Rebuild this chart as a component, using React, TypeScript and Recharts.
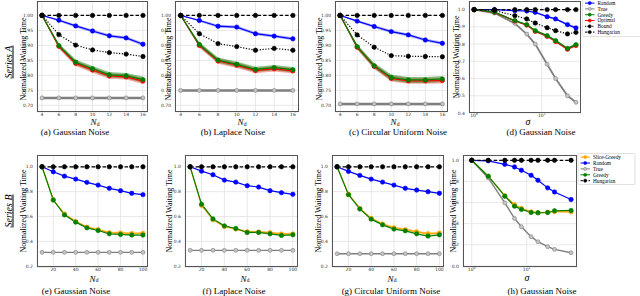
import React from 'react';
import { ComposedChart, Line, Area, XAxis, YAxis, CartesianGrid } from 'recharts';

// ---------- data ----------
const nTop = [4, 6, 8, 10, 12, 14, 16];
const nBottom = [10, 20, 30, 40, 50, 60, 70, 80, 90, 100];
const sigmaD = [1, 2, 4, 6, 8, 12, 16, 24, 32];
const sigmaH = [1, 2, 4, 6, 8, 12, 16, 24, 32, 64];

// (a) Gaussian, Series A
const aRandom = [1.0, 0.984, 0.965, 0.948, 0.932, 0.925, 0.904];
const aTrue = [0.725, 0.725, 0.725, 0.725, 0.725, 0.725, 0.725];
const aGreedy = [1.0, 0.899, 0.844, 0.822, 0.802, 0.799, 0.786];
const aOptimal = [1.0, 0.897, 0.840, 0.818, 0.798, 0.795, 0.781];
const aBound = [1.0, 0.936, 0.901, 0.885, 0.876, 0.871, 0.863];
const aHungarian = [1, 1, 1, 1, 1, 1, 1];
const aRandomStd = [0, 0.004, 0.005, 0.005, 0.005, 0.005, 0.006];
const aGreedyStd = [0, 0.008, 0.009, 0.009, 0.009, 0.009, 0.010];
const aOptimalStd = [0, 0.008, 0.009, 0.009, 0.009, 0.009, 0.010];

// (b) Laplace, Series A
const bRandom = [1.0, 0.983, 0.964, 0.961, 0.939, 0.931, 0.922];
const bTrue = [0.75, 0.75, 0.75, 0.75, 0.75, 0.75, 0.75];
const bGreedy = [1.0, 0.903, 0.851, 0.837, 0.820, 0.826, 0.819];
const bOptimal = [1.0, 0.900, 0.848, 0.834, 0.816, 0.822, 0.815];
const bBound = [1.0, 0.939, 0.906, 0.896, 0.884, 0.890, 0.884];
const bHungarian = [1, 1, 1, 1, 1, 1, 1];
const bRandomStd = [0, 0.004, 0.005, 0.005, 0.005, 0.005, 0.005];
const bGreedyStd = [0, 0.008, 0.009, 0.009, 0.009, 0.009, 0.009];
const bOptimalStd = [0, 0.008, 0.009, 0.009, 0.009, 0.009, 0.009];

// (c) Circular uniform, Series A
const cRandom = [1.0, 0.981, 0.963, 0.946, 0.935, 0.918, 0.907];
const cTrue = [0.705, 0.705, 0.705, 0.705, 0.705, 0.705, 0.705];
const cGreedy = [1.0, 0.896, 0.832, 0.793, 0.785, 0.785, 0.788];
const cOptimal = [1.0, 0.894, 0.830, 0.790, 0.782, 0.782, 0.783];
const cBound = [1.0, 0.935, 0.894, 0.866, 0.864, 0.863, 0.862];
const cHungarian = [1, 1, 1, 1, 1, 1, 1];
const cRandomStd = [0, 0.004, 0.005, 0.005, 0.005, 0.005, 0.005];
const cGreedyStd = [0, 0.008, 0.009, 0.010, 0.010, 0.010, 0.010];
const cOptimalStd = [0, 0.008, 0.009, 0.010, 0.010, 0.010, 0.010];

// (d) Gaussian vs sigma, Series A
const dRandom = [1.0, 1.0, 0.994, 0.992, 0.984, 0.959, 0.946, 0.913, 0.894];
const dTrue = [1.0, 0.98, 0.92, 0.858, 0.80, 0.683, 0.60, 0.50, 0.462];
const dGreedy = [1.0, 0.985, 0.936, 0.913, 0.878, 0.849, 0.82, 0.775, 0.797];
const dOptimal = [1.0, 0.984, 0.934, 0.910, 0.874, 0.845, 0.815, 0.770, 0.792];
const dBound = [1.0, 0.995, 0.965, 0.946, 0.922, 0.895, 0.878, 0.859, 0.868];
const dHungarian = [1, 1, 1, 1, 1, 1, 1, 1, 1];
const dRandomStd = [0, 0.002, 0.003, 0.003, 0.004, 0.005, 0.005, 0.006, 0.006];
const dGreedyStd = [0, 0.003, 0.004, 0.004, 0.005, 0.005, 0.006, 0.006, 0.006];
const dOptimalStd = [0, 0.003, 0.004, 0.004, 0.005, 0.005, 0.006, 0.006, 0.006];

// (e) Gaussian, Series B
const eSlice = [1.0, 0.735, 0.62, 0.56, 0.515, 0.495, 0.47, 0.468, 0.463, 0.465];
const eRandom = [1.0, 0.96, 0.925, 0.901, 0.875, 0.853, 0.827, 0.808, 0.787, 0.776];
const eTrue = [0.312, 0.312, 0.312, 0.312, 0.312, 0.312, 0.312, 0.312, 0.312, 0.312];
const eGreedy = [1.0, 0.733, 0.613, 0.555, 0.509, 0.488, 0.461, 0.456, 0.451, 0.451];
const eHungarian = [1, 1, 1, 1, 1, 1, 1, 1, 1, 1];
const eSliceStd = [0, 0.006, 0.008, 0.008, 0.009, 0.009, 0.01, 0.01, 0.01, 0.01];

// (f) Laplace, Series B
const fSlice = [1.0, 0.69, 0.575, 0.52, 0.50, 0.477, 0.476, 0.47, 0.46, 0.46];
const fRandom = [1.0, 0.965, 0.936, 0.893, 0.877, 0.848, 0.837, 0.808, 0.792, 0.779];
const fTrue = [0.328, 0.328, 0.328, 0.328, 0.328, 0.328, 0.328, 0.328, 0.328, 0.328];
const fGreedy = [1.0, 0.699, 0.581, 0.525, 0.504, 0.472, 0.472, 0.461, 0.448, 0.453];
const fHungarian = [1, 1, 1, 1, 1, 1, 1, 1, 1, 1];
const fSliceStd = [0, 0.006, 0.008, 0.008, 0.009, 0.009, 0.01, 0.01, 0.01, 0.01];

// (g) Circular uniform, Series B
const gSlice = [1.0, 0.78, 0.665, 0.585, 0.54, 0.51, 0.495, 0.477, 0.462, 0.467];
const gRandom = [1.0, 0.963, 0.931, 0.901, 0.877, 0.853, 0.827, 0.813, 0.80, 0.787];
const gTrue = [0.301, 0.301, 0.301, 0.301, 0.301, 0.301, 0.301, 0.301, 0.301, 0.301];
const gGreedy = [1.0, 0.776, 0.661, 0.579, 0.533, 0.499, 0.485, 0.461, 0.443, 0.453];
const gHungarian = [1, 1, 1, 1, 1, 1, 1, 1, 1, 1];
const gSliceStd = [0, 0.006, 0.008, 0.008, 0.009, 0.009, 0.01, 0.01, 0.01, 0.01];

// (h) Gaussian vs sigma, Series B
const hSlice = [1.0, 0.85, 0.665, 0.58, 0.545, 0.512, 0.505, 0.508, 0.515, 0.512];
const hRandom = [1.0, 0.995, 0.962, 0.937, 0.906, 0.858, 0.811, 0.739, 0.70, 0.629];
const hTrue = [1.0, 0.833, 0.597, 0.45, 0.371, 0.277, 0.229, 0.182, 0.157, 0.125];
const hGreedy = [1.0, 0.849, 0.66, 0.566, 0.535, 0.506, 0.503, 0.506, 0.522, 0.525];
const hHungarian = [1, 1, 1, 1, 1, 1, 1, 1, 1, 1];
const hSliceStd = [0, 0.004, 0.006, 0.008, 0.008, 0.008, 0.008, 0.008, 0.008, 0.008];

// ticks
const topYTicks = [0.7, 0.75, 0.8, 0.85, 0.9, 0.95, 1.0];
const topXTicks = [4, 6, 8, 10, 12, 14, 16];
const bottomYTicks = [0.2, 0.4, 0.6, 0.8, 1.0];
const bottomXTicks = [20, 40, 60, 80, 100];
const dYTicks = [0.4, 0.5, 0.6, 0.7, 0.8, 0.9, 1.0];
const hYTicks = [0.0, 0.2, 0.4, 0.6, 0.8, 1.0];
const logXTicks = [1, 10];

// ---------- styling ----------
const SERIF = "'Liberation Serif', 'Times New Roman', serif";
const SANS = "'DejaVu Sans', sans-serif";
const BLUE = '#0000ff';
const GREEN = '#008000';
const RED = '#ff0000';
const GREY = '#7f7f7f';
const ORANGE = '#ffa500';
const BLACK = '#000000';

type LineSpec = { key: string; color: string; width?: number; dash?: string; dotFill?: string; r?: number };
type BandSpec = { key: string; color: string; opacity: number };

function buildRows(xs: number[], series: Record<string, number[]>, stds: Record<string, number[]>) {
  return xs.map((x, i) => {
    const row: any = { x };
    Object.keys(series).forEach((k) => {
      row[k] = series[k][i];
    });
    Object.keys(stds).forEach((k) => {
      const v = series[k][i];
      const s = stds[k][i];
      row[k + 'Band'] = [v - s, v + s];
    });
    return row;
  });
}

const makeXTick = (log: boolean) => (p: any) => {
  const { x, y, payload } = p;
  if (log) {
    const e = Math.round(Math.log10(payload.value));
    return (
      <text x={x} y={y + 3.8} textAnchor="middle" fontSize={4.5} fontFamily={SANS} fill="#333">
        10<tspan dy={-1.8} fontSize={3.2}>{e}</tspan>
      </text>
    );
  }
  return (
    <text x={x} y={y + 3.8} textAnchor="middle" fontSize={4.5} fontFamily={SANS} fill="#333">
      {payload.value}
    </text>
  );
};

const makeYTick = (digits: number) => (p: any) => {
  const { x, y, payload } = p;
  return (
    <text x={x - 4} y={y + 1.6} textAnchor="end" fontSize={4.5} fontFamily={SANS} fill="#333">
      {Number(payload.value).toFixed(digits)}
    </text>
  );
};

function Panel(props: {
  frame: [number, number, number, number];
  rows: any[];
  xDomain: [number, number];
  yDomain: [number, number];
  xTicks: number[];
  yTicks: number[];
  yDigits: number;
  log?: boolean;
  bands: BandSpec[];
  lines: LineSpec[];
}) {
  const { frame, rows, xDomain, yDomain, xTicks, yTicks, yDigits, log, bands, lines } = props;
  const YW = 30;
  const XH = 12;
  const [l, t, r, b] = frame;
  const w = r - l;
  const h = b - t;
  return (
    <div style={{ position: 'absolute', left: l - YW, top: t, width: w + YW, height: h + XH }}>
      <ComposedChart width={w + YW} height={h + XH} data={rows} margin={{ top: 0, right: 0, bottom: 0, left: 0 }}>
        <CartesianGrid stroke="#e2e2e2" strokeWidth={0.8} />
        <XAxis
          dataKey="x"
          type="number"
          scale={log ? 'log' : 'linear'}
          domain={xDomain}
          ticks={xTicks}
          interval={0}
          allowDataOverflow
          axisLine={false}
          tickLine={false}
          tickSize={0}
          tickMargin={0}
          height={XH}
          tick={makeXTick(!!log)}
        />
        <YAxis
          type="number"
          domain={yDomain}
          ticks={yTicks}
          interval={0}
          allowDataOverflow
          axisLine={false}
          tickLine={false}
          tickSize={0}
          tickMargin={0}
          width={YW}
          tick={makeYTick(yDigits)}
        />
        {bands.map((bd) => (
          <Area
            key={bd.key + 'Band'}
            dataKey={bd.key + 'Band'}
            stroke="none"
            fill={bd.color}
            fillOpacity={bd.opacity}
            isAnimationActive={false}
            dot={false}
            activeDot={false}
          />
        ))}
        {lines.map((ln) => (
          <Line
            key={ln.key}
            dataKey={ln.key}
            stroke={ln.color}
            strokeWidth={ln.width ?? 1.2}
            strokeDasharray={ln.dash}
            isAnimationActive={false}
            activeDot={false}
            dot={{
              r: ln.r ?? 2.2,
              fill: ln.dotFill ?? ln.color,
              stroke: ln.color,
              strokeWidth: 0.6,
              strokeDasharray: 'none',
            }}
          />
        ))}
      </ComposedChart>
      <div
        style={{
          position: 'absolute',
          left: YW,
          top: 0,
          width: w,
          height: h,
          border: '0.8px solid #555',
          boxSizing: 'border-box',
          pointerEvents: 'none',
        }}
      />
    </div>
  );
}

const topBands: BandSpec[] = [
  { key: 'random', color: BLUE, opacity: 0.3 },
  { key: 'optimal', color: RED, opacity: 0.35 },
  { key: 'greedy', color: GREEN, opacity: 0.45 },
];
const topLines: LineSpec[] = [
  { key: 'true', color: GREY, width: 2.5, dotFill: '#c4c4c4', r: 2 },
  { key: 'random', color: BLUE },
  { key: 'optimal', color: RED },
  { key: 'greedy', color: GREEN },
  { key: 'bound', color: BLACK, dash: '1.2 1.6' },
  { key: 'hungarian', color: BLACK, dash: '3.5 2' },
];
const dLines: LineSpec[] = [
  { key: 'true', color: GREY, width: 1.8, dotFill: '#c4c4c4', r: 2 },
  { key: 'random', color: BLUE },
  { key: 'optimal', color: RED },
  { key: 'greedy', color: GREEN },
  { key: 'bound', color: BLACK, dash: '1.2 1.6' },
  { key: 'hungarian', color: BLACK, dash: '3.5 2' },
];
const bottomBands: BandSpec[] = [{ key: 'slice', color: ORANGE, opacity: 0.45 }];
const bottomLines: LineSpec[] = [
  { key: 'slice', color: ORANGE },
  { key: 'random', color: BLUE },
  { key: 'true', color: GREY, width: 1.4, dotFill: '#c4c4c4', r: 2 },
  { key: 'greedy', color: GREEN },
  { key: 'hungarian', color: BLACK, dash: '3.5 2' },
];

const rowsA = buildRows(nTop, { random: aRandom, true: aTrue, greedy: aGreedy, optimal: aOptimal, bound: aBound, hungarian: aHungarian }, { random: aRandomStd, greedy: aGreedyStd, optimal: aOptimalStd });
const rowsB = buildRows(nTop, { random: bRandom, true: bTrue, greedy: bGreedy, optimal: bOptimal, bound: bBound, hungarian: bHungarian }, { random: bRandomStd, greedy: bGreedyStd, optimal: bOptimalStd });
const rowsC = buildRows(nTop, { random: cRandom, true: cTrue, greedy: cGreedy, optimal: cOptimal, bound: cBound, hungarian: cHungarian }, { random: cRandomStd, greedy: cGreedyStd, optimal: cOptimalStd });
const rowsD = buildRows(sigmaD, { random: dRandom, true: dTrue, greedy: dGreedy, optimal: dOptimal, bound: dBound, hungarian: dHungarian }, { random: dRandomStd, greedy: dGreedyStd, optimal: dOptimalStd });
const rowsE = buildRows(nBottom, { slice: eSlice, random: eRandom, true: eTrue, greedy: eGreedy, hungarian: eHungarian }, { slice: eSliceStd });
const rowsF = buildRows(nBottom, { slice: fSlice, random: fRandom, true: fTrue, greedy: fGreedy, hungarian: fHungarian }, { slice: fSliceStd });
const rowsG = buildRows(nBottom, { slice: gSlice, random: gRandom, true: gTrue, greedy: gGreedy, hungarian: gHungarian }, { slice: gSliceStd });
const rowsH = buildRows(sigmaH, { slice: hSlice, random: hRandom, true: hTrue, greedy: hGreedy, hungarian: hHungarian }, { slice: hSliceStd });

type LegItem = { label: string; color: string; dash?: string; fill?: string };
const legendD: LegItem[] = [
  { label: 'Random', color: BLUE },
  { label: 'True', color: GREY, fill: '#c4c4c4' },
  { label: 'Greedy', color: GREEN },
  { label: 'Optimal', color: RED },
  { label: 'Bound', color: BLACK, dash: '1.2 1.2' },
  { label: 'Hungarian', color: BLACK, dash: '2.5 1.5' },
];
const legendH: LegItem[] = [
  { label: 'Slice-Greedy', color: ORANGE },
  { label: 'Random', color: BLUE },
  { label: 'True', color: GREY, fill: '#c4c4c4' },
  { label: 'Greedy', color: GREEN },
  { label: 'Hungarian', color: BLACK, dash: '2.5 1.5' },
];

function LegendBox({ x, y, w, h, items, rowH }: { x: number; y: number; w: number; h: number; items: LegItem[]; rowH: number }) {
  return (
    <g>
      <rect x={x} y={y} width={w} height={h} fill="#fff" stroke="#cfcfcf" strokeWidth={0.6} rx={1} />
      {items.map((it, i) => {
        const cy = y + 3.6 + i * rowH;
        return (
          <g key={it.label}>
            <line x1={x + 2.5} x2={x + 12} y1={cy} y2={cy} stroke={it.color} strokeWidth={1} strokeDasharray={it.dash} />
            <circle cx={x + 7.2} cy={cy} r={1.6} fill={it.fill ?? it.color} stroke={it.color} strokeWidth={0.5} />
            <text x={x + 15} y={cy + 1.8} fontSize={5.3} fontFamily={SERIF} fill="#000">
              {it.label}
            </text>
          </g>
        );
      })}
    </g>
  );
}

function YLabel({ x, y }: { x: number; y: number }) {
  return (
    <text transform={`translate(${x},${y}) rotate(-90)`} textAnchor="middle" fontSize={8} fontFamily={SERIF} fill="#000">
      Normalized Waiting Time
    </text>
  );
}

function NLabel({ x, y }: { x: number; y: number }) {
  return (
    <text x={x} y={y} textAnchor="middle" fontFamily={SERIF} fontSize={9} fontStyle="italic" fill="#000">
      N<tspan fontStyle="normal" fontSize={5.5} dy={0.9}>d</tspan>
    </text>
  );
}

function SigmaLabel({ x, y }: { x: number; y: number }) {
  return (
    <text x={x} y={y} textAnchor="middle" fontFamily={SERIF} fontSize={10} fontStyle="italic" fill="#000">
      σ
    </text>
  );
}

function Caption({ x, y, text }: { x: number; y: number; text: string }) {
  return (
    <text x={x} y={y} textAnchor="middle" fontFamily={SERIF} fontSize={9} fill="#000">
      {text}
    </text>
  );
}

export default function App() {
  const topY: [number, number] = [0.678, 1.048];
  const topX: [number, number] = [3.4, 16.6];
  const botY: [number, number] = [0.19, 1.095];
  const botX: [number, number] = [5.5, 104.5];
  return (
    <div style={{ position: 'absolute', left: 0, top: 0, width: 640, height: 296, background: '#fff', overflow: 'hidden' }}>
      <Panel frame={[37, 1, 148, 112]} rows={rowsA} xDomain={topX} yDomain={topY} xTicks={topXTicks} yTicks={topYTicks} yDigits={2} bands={topBands} lines={topLines} />
      <Panel frame={[175, 1, 298.5, 112]} rows={rowsB} xDomain={topX} yDomain={topY} xTicks={topXTicks} yTicks={topYTicks} yDigits={2} bands={topBands} lines={topLines} />
      <Panel frame={[335, 1, 447.5, 112]} rows={rowsC} xDomain={topX} yDomain={topY} xTicks={topXTicks} yTicks={topYTicks} yDigits={2} bands={topBands} lines={topLines} />
      <Panel frame={[469, 0.5, 581, 112.5]} rows={rowsD} xDomain={[0.84, 38]} yDomain={[0.4, 1.05]} xTicks={logXTicks} yTicks={dYTicks} yDigits={1} log bands={topBands} lines={dLines} />
      <Panel frame={[37, 154.5, 148, 267]} rows={rowsE} xDomain={botX} yDomain={botY} xTicks={bottomXTicks} yTicks={bottomYTicks} yDigits={1} bands={bottomBands} lines={bottomLines} />
      <Panel frame={[184.5, 154.5, 297.5, 267]} rows={rowsF} xDomain={botX} yDomain={botY} xTicks={bottomXTicks} yTicks={bottomYTicks} yDigits={1} bands={bottomBands} lines={bottomLines} />
      <Panel frame={[331.5, 154.5, 444, 267]} rows={rowsG} xDomain={botX} yDomain={botY} xTicks={bottomXTicks} yTicks={bottomYTicks} yDigits={1} bands={bottomBands} lines={bottomLines} />
      <Panel frame={[463, 155, 577, 267]} rows={rowsH} xDomain={[0.695, 82]} yDomain={[-0.01, 1.05]} xTicks={logXTicks} yTicks={hYTicks} yDigits={1} log bands={bottomBands} lines={bottomLines} />

      <svg width={640} height={296} style={{ position: 'absolute', left: 0, top: 0, pointerEvents: 'none' }}>
        <text transform="translate(11.5,62) rotate(-90)" textAnchor="middle" fontSize={10} fontFamily={SERIF} fontStyle="italic" textDecoration="underline" fill="#000">
          Series A
        </text>
        <text transform="translate(11.5,211) rotate(-90)" textAnchor="middle" fontSize={10} fontFamily={SERIF} fontStyle="italic" textDecoration="underline" fill="#000">
          Series B
        </text>

        <YLabel x={26} y={59} />
        <YLabel x={171} y={59} />
        <YLabel x={322} y={59} />
        <YLabel x={459} y={57} />
        <YLabel x={26} y={211} />
        <YLabel x={172} y={211} />
        <YLabel x={321} y={211} />
        <YLabel x={456} y={211} />

        <NLabel x={95} y={124.6} />
        <NLabel x={242} y={124.6} />
        <NLabel x={395} y={124.6} />
        <SigmaLabel x={528} y={124.5} />
        <NLabel x={94} y={281.5} />
        <NLabel x={245} y={281.5} />
        <NLabel x={392} y={281.5} />
        <SigmaLabel x={527} y={280.5} />

        <Caption x={75} y={134.8} text="(a)  Gaussian Noise" />
        <Caption x={233} y={134.8} text="(b)  Laplace Noise" />
        <Caption x={398} y={134.8} text="(c)  Circular Uniform Noise" />
        <Caption x={541} y={134.8} text="(d)  Gaussian Noise" />
        <Caption x={76} y={294} text="(e)  Gaussian Noise" />
        <Caption x={234} y={294} text="(f)  Laplace Noise" />
        <Caption x={391} y={294} text="(g)  Circular Uniform Noise" />
        <Caption x={542} y={294} text="(h)  Gaussian Noise" />

        <LegendBox x={582.5} y={-0.5} w={58} h={37} items={legendD} rowH={5.8} />
        <LegendBox x={578} y={153.5} w={57} h={31} items={legendH} rowH={5.9} />
      </svg>
    </div>
  );
}
